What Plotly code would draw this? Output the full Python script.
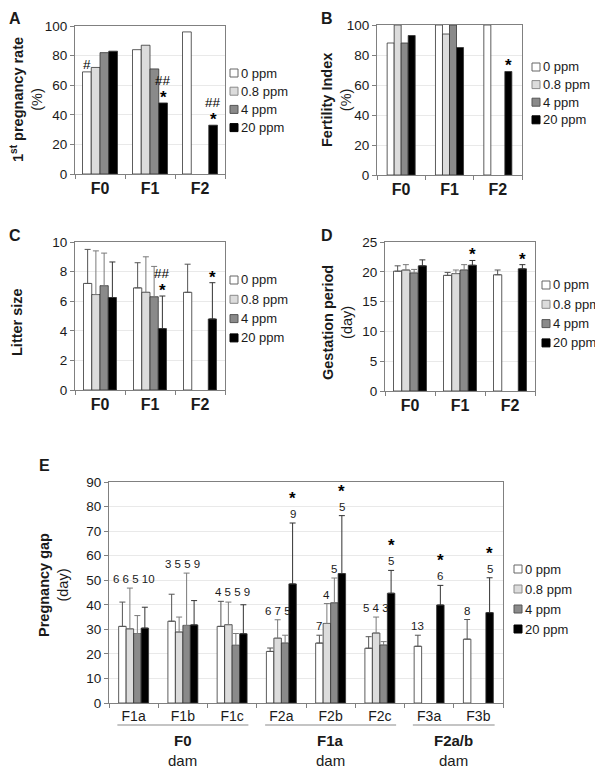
import plotly.graph_objects as go

# the page body adds an 8px margin; the figure is sized so that it ends at the window edge
PAGE_W, PAGE_H, BODY = 603, 772, 8
W, H = PAGE_W - BODY, PAGE_H - BODY
FONT = "Liberation Sans, Arial, sans-serif"

# ---------------- data ----------------
doses = ['0 ppm', '0.8 ppm', '4 ppm', '20 ppm']
generations = ['F0', 'F1', 'F2']

# A: 1st pregnancy rate (%)  [dose][generation]
first_preg_rate = [[69, 84, 96], [72, 87, None], [82, 71, None], [83, 48, 33]]
first_preg_hash = [['#', '', ''], ['', '', ''], ['', '', ''], ['', '##', '##']]
first_preg_star = [[0, 0, 0], [0, 0, 0], [0, 0, 0], [0, 1, 1]]

# B: fertility index (%)
fertility_index = [[88, 100, 100], [100, 94, None], [88, 100, None], [93, 85, 69]]
fertility_hash = [['', '', ''], ['', '', ''], ['', '', ''], ['', '', '']]
fertility_star = [[0, 0, 0], [0, 0, 0], [0, 0, 0], [0, 0, 1]]

# C: litter size
litter_size = [[7.2, 6.9, 6.6], [6.45, 6.6, None], [7.05, 6.3, None], [6.25, 4.15, 4.8]]
litter_err = [[2.3, 1.7, 1.9], [2.95, 2.4, None], [2.2, 2.05, None], [2.4, 2.2, 2.45]]
litter_hash = [['', '', ''], ['', '', ''], ['', '', ''], ['', '##', '']]
litter_star = [[0, 0, 0], [0, 0, 0], [0, 0, 0], [0, 1, 1]]

# D: gestation period (day)
gestation = [[20.1, 19.4, 19.5], [20.3, 19.7, None], [19.8, 20.3, None], [21.0, 21.1, 20.5]]
gestation_err = [[0.9, 0.5, 0.8], [0.9, 0.6, None], [0.6, 0.9, None], [1.0, 0.8, 0.7]]
gestation_hash = [['', '', ''], ['', '', ''], ['', '', ''], ['', '', '']]
gestation_star = [[0, 0, 0], [0, 0, 0], [0, 0, 0], [0, 1, 1]]

# E: pregnancy gap (day)
litters = ['F1a', 'F1b', 'F1c', 'F2a', 'F2b', 'F2c', 'F3a', 'F3b']
dam_gen = ['F0', 'F0', 'F0', 'F1a', 'F1a', 'F1a', 'F2a/b', 'F2a/b']
gap_mean = [[31.2, 33.3, 31.2, 21.0, 24.4, 22.3, 23.1, 26.0],
            [30.2, 28.9, 31.9, 26.4, 32.4, 28.5, None, None],
            [28.3, 31.6, 23.5, 24.4, 40.8, 23.6, None, None],
            [30.5, 31.8, 28.2, 48.5, 52.7, 44.7, 39.9, 36.8]]
gap_err = [[9.9, 11.0, 10.2, 1.4, 3.2, 4.7, 4.5, 8.0],
           [16.6, 6.1, 9.2, 7.5, 8.1, 6.5, None, None],
           [7.3, 21.3, 4.8, 3.2, 10.1, 1.4, None, None],
           [8.5, 9.9, 11.8, 24.8, 23.6, 9.3, 8.0, 14.2]]
gap_n = [[6, 3, 4, 6, 7, 5, 13, 8],
         [6, 5, 5, 7, 4, 4, None, None],
         [5, 5, 5, 5, 5, 3, None, None],
         [10, 9, 9, 9, 5, 5, 6, 5]]
gap_star = [[0] * 8, [0] * 8, [0] * 8, [0, 0, 0, 1, 1, 1, 1, 1]]
gap_shared_row = [1, 1, 1, 1, 0, 1, 1, 1]

# ---------------- style ----------------
fills = ['#ffffff', '#dcdcdc', '#8a8a8a', '#000000']
key_lines = ['#666666', '#8a8a8a', '#555555', '#000000']
outline = '#333333'
err_colors = ['#555555', '#7a7a7a', '#7a7a7a', '#333333']
frame = '#808080'
grid = '#e9e9e9'
txt = '#1a1a1a'


def px(x):
    return (x - BODY) / W


def py(y):
    return 1 - (y - BODY) / H


def xd(a, b):
    return [px(a), px(b)]


def yd(top, bottom):
    return [py(bottom), py(top)]


fig = go.Figure()
annotations = []
shapes = []

panels = [
    dict(k=1, cats=generations, vals=first_preg_rate, errs=None, hashes=first_preg_hash,
         stars=first_preg_star, xpx=(75, 225), ypx=(26, 174), ymax=100, dtick=20, bw=0.175,
         leg=(230, 73, 18.2), title='<b>1<sup>st</sup> pregnancy rate</b><br>(%)', tpos=(27, 100),
         letter='A', lpos=(15, 8)),
    dict(k=2, cats=generations, vals=fertility_index, errs=None, hashes=fertility_hash,
         stars=fertility_star, xpx=(377, 522), ypx=(25, 175), ymax=100, dtick=20, bw=0.145,
         leg=(532, 67, 17.6), title='<b>Fertility Index</b><br>(%)', tpos=(337, 100),
         letter='B', lpos=(327, 8)),
    dict(k=3, cats=generations, vals=litter_size, errs=litter_err, hashes=litter_hash,
         stars=litter_star, xpx=(75, 225), ypx=(242, 390), ymax=10, dtick=2, bw=0.165,
         leg=(230, 280, 19.3), title='<b>Litter size</b>', tpos=(17, 322),
         letter='C', lpos=(15, 225)),
    dict(k=4, cats=generations, vals=gestation, errs=gestation_err, hashes=gestation_hash,
         stars=gestation_star, xpx=(385, 535), ypx=(242, 391), ymax=25, dtick=5, bw=0.165,
         leg=(542, 285, 19.3), title='<b>Gestation period</b><br>(day)', tpos=(337, 323),
         letter='D', lpos=(327, 225)),
    dict(k=5, cats=litters, vals=gap_mean, errs=gap_err, hashes=None,
         stars=gap_star, xpx=(109, 503), ypx=(482, 703), ymax=90, dtick=10, bw=0.152,
         leg=(514, 569, 20), title='<b>Pregnancy gap</b><br>(day)', tpos=(53, 585),
         letter='E', lpos=(44, 455)),
]

layout_axes = {}
for p in panels:
    k = p['k']
    sfx = '' if k == 1 else str(k)
    xa, ya = 'x' + sfx, 'y' + sfx
    bw = p['bw']
    ncat = len(p['cats'])
    for i, d in enumerate(doses):
        err = None
        if p['errs'] is not None:
            err = dict(type='data', symmetric=False, array=p['errs'][i],
                       arrayminus=[0] * ncat, color=err_colors[i], thickness=1, width=3)
        fig.add_trace(go.Bar(
            x=p['cats'], y=p['vals'][i], name=d, width=bw, offset=(i - 2) * bw,
            marker=dict(color=fills[i], line=dict(color=outline, width=0.8)),
            error_y=err, xaxis=xa, yaxis=ya, showlegend=False,
        ))
    # significance marks / sample sizes
    for j in range(ncat):
        if k == 5:
            row = [i for i in range(4) if p['vals'][i][j] is not None and not p['stars'][i][j]]
            tops = {i: p['vals'][i][j] + p['errs'][i][j] for i in range(4) if p['vals'][i][j] is not None}
            if gap_shared_row[j] and len(row) > 1:
                lvl = max(tops[i] for i in row)
                xc = j + (sum(row) / len(row) - 1.5) * bw
                annotations.append(dict(x=xc, y=lvl, xref=xa, yref=ya,
                                        text=' '.join(str(gap_n[i][j]) for i in row),
                                        showarrow=False, yanchor='bottom', yshift=1,
                                        font=dict(size=11.5, color=txt)))
                singles = [i for i in tops if i not in row]
            else:
                singles = list(tops)
            for i in singles:
                xc = j + (i - 1.5) * bw
                annotations.append(dict(x=xc, y=tops[i], xref=xa, yref=ya, text=str(gap_n[i][j]),
                                        showarrow=False, yanchor='bottom', yshift=1,
                                        font=dict(size=11.5, color=txt)))
                if p['stars'][i][j]:
                    annotations.append(dict(x=xc, y=tops[i], xref=xa, yref=ya, text='<b>*</b>',
                                            showarrow=False, yanchor='bottom', yshift=13,
                                            font=dict(size=17, color='#000')))
            continue
        for i in range(4):
            v = p['vals'][i][j]
            if v is None:
                continue
            e = p['errs'][i][j] if p['errs'] is not None else 0
            top = v + (e or 0)
            xc = j + (i - 1.5) * bw
            star = p['stars'][i][j]
            h = p['hashes'][i][j]
            if star:
                annotations.append(dict(x=xc, y=top, xref=xa, yref=ya, text='<b>*</b>',
                                        showarrow=False, yanchor='bottom', yshift=-6,
                                        font=dict(size=17, color='#000')))
            if h:
                annotations.append(dict(x=xc, y=top, xref=xa, yref=ya, text=h,
                                        showarrow=False, yanchor='bottom',
                                        yshift=13 if star else -2,
                                        font=dict(size=13.5, color='#000')))
    bold = k != 5
    layout_axes['xaxis' + sfx] = dict(
        domain=xd(*p['xpx']), anchor=ya, type='category', range=[-0.5, ncat - 0.5],
        showline=True, mirror=True, linecolor=frame, linewidth=1, showgrid=False,
        ticks='outside', tickson='boundaries', ticklen=4, tickcolor=frame,
        tickfont=dict(size=16 if bold else 14, weight='bold' if bold else 'normal',
                      color=txt, family=FONT),
    )
    layout_axes['yaxis' + sfx] = dict(
        domain=yd(*p['ypx']), anchor=xa, range=[0, p['ymax']], dtick=p['dtick'],
        showline=True, mirror=True, linecolor=frame, linewidth=1, showgrid=True,
        gridcolor=grid, zeroline=False, ticks='outside', ticklen=4, tickcolor=frame,
        tickfont=dict(size=13.5, color=txt, family=FONT),
    )
    # legend keys (one row per dose)
    lx, ly0, ldy = p['leg']
    for i, d in enumerate(doses):
        cy = ly0 + i * ldy
        shapes.append(dict(type='rect', xref='paper', yref='paper',
                           x0=px(lx), x1=px(lx + 8), y0=py(cy + 4), y1=py(cy - 4),
                           fillcolor=fills[i], line=dict(color=key_lines[i], width=1)))
        annotations.append(dict(x=px(lx + 9), y=py(cy), xref='paper', yref='paper',
                                text=d, showarrow=False, xanchor='left', yanchor='middle',
                                font=dict(size=13, color=txt, family=FONT)))
    annotations.append(dict(x=px(p['tpos'][0]), y=py(p['tpos'][1]), xref='paper', yref='paper',
                            text=p['title'], textangle=-90, showarrow=False,
                            xanchor='center', yanchor='middle',
                            font=dict(size=14.5, color=txt, family=FONT)))
    annotations.append(dict(x=px(p['lpos'][0]), y=py(p['lpos'][1]), xref='paper', yref='paper',
                            text='<b>' + p['letter'] + '</b>', showarrow=False,
                            xanchor='center', yanchor='top',
                            font=dict(size=16, color=txt, family=FONT)))

# E: dam-generation group lines and labels
groups = []
for j, g in enumerate(dam_gen):
    if not groups or groups[-1][0] != g:
        groups.append([g, j, j])
    else:
        groups[-1][2] = j
for g, a, b in groups:
    shapes.append(dict(type='line', xref='x5', yref='paper', x0=a - 0.33, x1=b + 0.33,
                       y0=py(725), y1=py(725), line=dict(color='#c4c4c4', width=2)))
    annotations.append(dict(x=(a + b) / 2, y=py(740), xref='x5', yref='paper',
                            text='<b>' + g + '</b>', showarrow=False,
                            xanchor='center', yanchor='middle',
                            font=dict(size=15, color=txt, family=FONT)))
    annotations.append(dict(x=(a + b) / 2, y=py(760), xref='x5', yref='paper',
                            text='dam', showarrow=False,
                            xanchor='center', yanchor='middle',
                            font=dict(size=15, color=txt, family=FONT)))

fig.update_layout(
    width=W, height=H, autosize=False,
    margin=dict(l=0, r=0, t=0, b=0, autoexpand=False),
    paper_bgcolor='white', plot_bgcolor='white',
    barmode='overlay', showlegend=False,
    font=dict(family=FONT, size=13, color=txt),
    annotations=annotations, shapes=shapes,
    **layout_axes,
)

fig.write_html("out.html")
